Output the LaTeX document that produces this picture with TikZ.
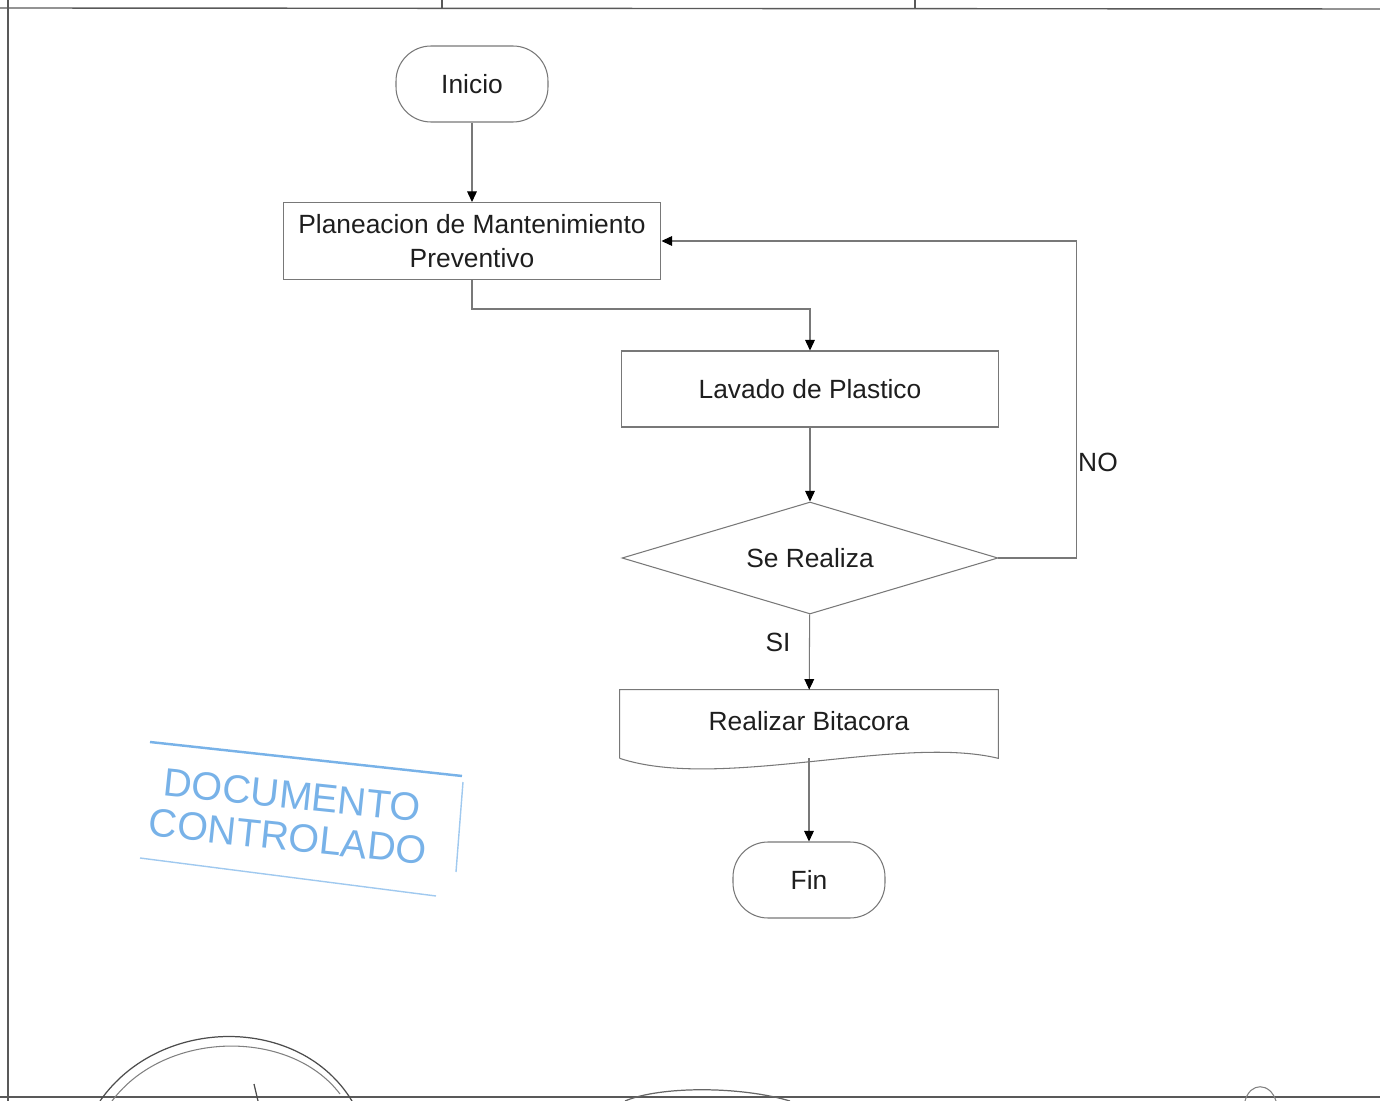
\documentclass[tikz,border=0pt]{standalone}
\usepackage{fontspec}
\setmainfont{Liberation Sans}
\usetikzlibrary{shapes.geometric,arrows.meta}
\definecolor{linegray}{RGB}{120,120,120}
\definecolor{textgray}{RGB}{30,30,30}
\definecolor{stampblue}{RGB}{120,178,232}
\begin{document}
\begin{tikzpicture}[x=0.02cm,y=-0.02cm,
  font=\fontsize{15}{19}\selectfont,
  proc/.style={draw=linegray,line width=0.6pt,rectangle,minimum width=7.56cm,minimum height=1.52cm,align=center,text=textgray,inner sep=2pt},
  term/.style={draw=linegray,line width=0.6pt,rectangle,rounded corners=0.7cm,minimum width=3.04cm,minimum height=1.52cm,text=textgray},
  decision/.style={draw=linegray,line width=0.6pt,diamond,shape aspect=3.36,minimum width=7.52cm,minimum height=2.24cm,text=textgray,inner sep=0pt},
  flow/.style={draw=linegray,line width=0.6pt,-{Triangle[length=6pt,width=5.5pt,color=black]}},
  frame/.style={black!65,line width=0.8pt}]

\useasboundingbox (0,0) rectangle (1380,1101);

%page frame

\draw[frame] (8,0) -- (8,1101);
\draw[frame] (0,8) -- (1380,9);
\draw[frame] (442,0) -- (442,8);
\draw[frame] (915,0) -- (915,8);
\draw[frame] (0,1097) -- (1380,1097);

% nodes

\node[term] (inicio) at (472,84) {Inicio};
\node[proc,minimum height=1.54cm] (planeacion) at (472,241) {Planeacion de Mantenimiento\\Preventivo};
\node[proc] (lavado) at (810,389) {Lavado de Plastico};
\node[decision] (realiza) at (810,558) {Se Realiza};
\node[minimum width=7.56cm,minimum height=1.36cm,text=textgray] (bitacora) at (809,724) {\raisebox{3.4pt}{Realizar Bitacora}};
\node[term] (fin) at (809,880) {Fin};

    % document shape
\draw[linegray,line width=0.6pt] (bitacora.south west) -- (bitacora.north west) -- (bitacora.north east) -- (bitacora.south east)
  .. controls +(-98,-24) and +(100,33) .. (bitacora.south west);

% labels

\node[text=textgray] (no) at (1098,462) {NO};
\node[text=textgray] (si) at (778,642) {SI};

%lines

\draw[flow] (inicio) -- (planeacion);
\draw[flow] (planeacion.south) -- ++(0,29) -| (lavado.north);
\draw[flow] (lavado) -- (realiza);
\draw[flow] (realiza.east) -- ++(78,0) coordinate (noturn) |- (planeacion.east);
\draw[flow] (realiza) -- (bitacora);
\draw[flow] (bitacora.south) -- (fin);

% stamp

\node[text=stampblue,rotate=-6,font=\fontsize{22.5}{24}\selectfont,align=center] (stamp) at (290,816) {DOCUMENTO\\CONTROLADO};
\draw[stampblue,line width=1.4pt] (150,742) -- (462,776);
\draw[stampblue!70,line width=0.8pt] (140,858) -- (436,896);
\draw[stampblue!70,line width=0.8pt] (463,782) -- (456,872);

% signatures

\draw[black!70,line width=0.7pt] (100,1101) .. controls (160,1015) and (300,1015) .. (352,1101);
\draw[black!50,line width=0.6pt] (112,1101) .. controls (165,1030) and (290,1028) .. (340,1094);
\draw[black!70,line width=0.7pt] (254,1084) -- (258,1101);
\draw[black!60,line width=0.7pt] (625,1101) .. controls (660,1086) and (740,1086) .. (790,1101);
\draw[black!50,line width=0.6pt] (1245,1101) .. controls (1250,1082) and (1270,1082) .. (1276,1101);
\end{tikzpicture}
\end{document}
